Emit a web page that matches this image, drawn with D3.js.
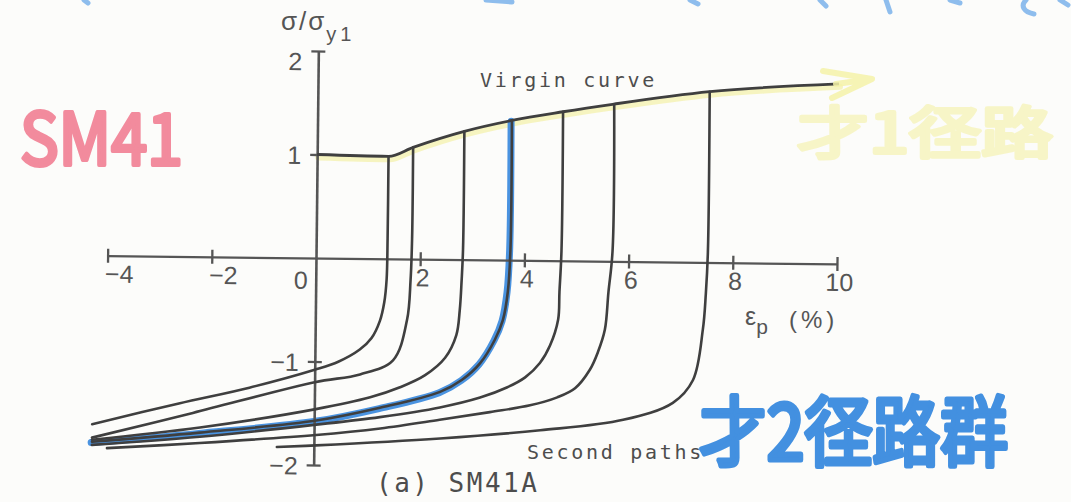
<!DOCTYPE html>
<html>
<head>
<meta charset="utf-8">
<script src="https://cdn.jsdelivr.net/npm/d3@7"></script>
<style>
  html, body { margin: 0; padding: 0; background: #fcfcfa; }
  svg { display: block; }
</style>
</head>
<body>
<svg id="chart" width="1071" height="502"></svg>
<script>
// Virgin (monotonic loading) curve: plastic strain (%) vs. stress ratio
const virginStrain = [0, 1.37, 1.84, 2.82, 3.73, 4.71, 5.69, 7.52, 10.0];
const virginStress = [1.0, 0.99, 1.08, 1.24, 1.35, 1.44, 1.52, 1.65, 1.74];

// Second paths: reverse loading started from points on the virgin curve [strain %, stress ratio]
const path1 = [[1.37,0.99],[1.37,0.2],[1.36,-0.2],[1.32,-0.42],[1.24,-0.6],[1.08,-0.77],[0.86,-0.88],[0.45,-1.0],[0,-1.08],[-1.25,-1.26],[-2.6,-1.42],[-4.26,-1.63]];
const path2 = [[1.84,1.08],[1.84,0.2],[1.82,-0.2],[1.76,-0.59],[1.5,-0.98],[0.87,-1.12],[0,-1.2],[-2.33,-1.51],[-4.26,-1.76]];
const path3 = [[2.82,1.24],[2.82,0.1],[2.80,-0.2],[2.77,-0.49],[2.71,-0.73],[2.50,-0.95],[2.12,-1.12],[1.64,-1.24],[1.07,-1.34],[0.03,-1.46],[-2.19,-1.65],[-4.26,-1.78]];
const path4 = [[3.73,1.35],[3.73,0.1],[3.69,-0.3],[3.60,-0.58],[3.45,-0.77],[3.17,-1.0],[2.83,-1.16],[2.41,-1.28],[1.26,-1.44],[0.04,-1.57],[-2.19,-1.70],[-4.26,-1.80]];
const path5 = [[4.71,1.44],[4.71,0.1],[4.68,-0.3],[4.66,-0.57],[4.51,-0.82],[4.32,-0.99],[4.04,-1.13],[3.69,-1.23],[3.18,-1.33],[2.41,-1.43],[1.26,-1.53],[0.04,-1.61],[-2.19,-1.74],[-4.26,-1.83]];
const path6 = [[5.69,1.52],[5.69,0.1],[5.62,-0.3],[5.56,-0.66],[5.43,-0.88],[5.28,-1.05],[5.0,-1.23],[4.66,-1.32],[4.14,-1.40],[3.37,-1.47],[2.41,-1.55],[1.27,-1.64],[0.04,-1.71],[-2.19,-1.80],[-3.97,-1.86]];
const path7 = [[7.52,1.65],[7.52,0.1],[7.49,-0.3],[7.44,-0.65],[7.26,-1.14],[6.88,-1.36],[5.93,-1.53],[4.34,-1.64],[2.42,-1.73],[0.04,-1.81],[-0.71,-1.83]];
const secondPaths = [path1, path2, path3, path4, path5, path6, path7];
const markedPath = path4;   // the path traced in blue

// Axis ticks and labels
const xTicks = [-4, -2, 2, 4, 6, 8, 10];
const xTickLabels = ["\u22124", "\u22122", "2", "4", "6", "8", "10"];
const yTicks = [2, 1, -1, -2];
const yTickLabels = ["2", "1", "\u22121", "\u22122"];

const svg = d3.select("#chart");
svg.append("rect").attr("width", 1071).attr("height", 502).attr("fill", "#fcfcfa");

const x = d3.scaleLinear().domain([-4, 10]).range([107.6, 837.0]);
const y = d3.scaleLinear().domain([-2, 2]).range([465, 51]);

const ink = "#3f3f3f";
const typeFont = "'DejaVu Sans Mono', monospace";
const labelFont = "'Liberation Sans', Arial, sans-serif";
const handFont = "'Noto Sans CJK JP', 'Noto Sans', sans-serif";

// the printed figure sits slightly askew on the page
const plot = svg.append("g").attr("transform", `rotate(0.65, ${x(0)}, ${y(0)})`);

const virgin = virginStrain.map((s, i) => [s, virginStress[i]]);
const virginLine = d3.line().x(d => x(d[0])).y(d => y(d[1])).curve(d3.curveMonotoneX);
const pathLine = d3.line().x(d => x(d[0])).y(d => y(d[1])).curve(d3.curveCatmullRom.alpha(0.5));

// yellow marker along the virgin curve
plot.append("path")
  .attr("d", virginLine(virgin))
  .attr("transform", "translate(1,3)")
  .attr("fill", "none").attr("stroke", "#f3f1a6").attr("stroke-width", 6)
  .attr("stroke-linecap", "round").attr("opacity", 0.7);

// blue marker along one second path
plot.append("path")
  .attr("d", pathLine(markedPath))
  .attr("transform", "translate(-0.8,0.8)")
  .attr("fill", "none").attr("stroke", "#4a93e0").attr("stroke-width", 7)
  .attr("stroke-linecap", "round").attr("stroke-linejoin", "round");

// x axis
const xAxis = plot.append("g")
  .attr("transform", `translate(0,${y(0)})`)
  .call(d3.axisBottom(x).tickValues(xTicks)
    .tickFormat((d, i) => xTickLabels[i])
    .tickSizeInner(7).tickSizeOuter(0));
xAxis.select(".domain").attr("stroke", "#555").attr("stroke-width", 2.3);
xAxis.selectAll(".tick line").attr("y1", -7).attr("stroke", "#555").attr("stroke-width", 2.3);
xAxis.selectAll(".tick text")
  .attr("y", 27).attr("dy", null)
  .attr("x", d => d < 0 ? -3 : 2)
  .attr("text-anchor", d => d < 0 ? "start" : "middle")
  .attr("font-family", labelFont).attr("font-size", 25).attr("fill", "#555");
xAxis.append("text")
  .attr("x", x(0) - 8).attr("y", 31)
  .attr("text-anchor", "end")
  .attr("font-family", labelFont).attr("font-size", 25).attr("fill", "#555")
  .text("0");

// y axis
const yAxis = plot.append("g")
  .attr("transform", `translate(${x(0)},0)`)
  .call(d3.axisLeft(y).tickValues(yTicks)
    .tickFormat((d, i) => yTickLabels[i])
    .tickSizeInner(7).tickSizeOuter(0));
yAxis.select(".domain").attr("stroke", "#555").attr("stroke-width", 2.6);
yAxis.selectAll(".tick line").attr("x1", d => d === 1 ? 0 : 7).attr("stroke", "#555").attr("stroke-width", 2.3);
yAxis.selectAll(".tick text")
  .attr("x", -16).attr("dy", d => d === 2 ? "0.75em" : "0.36em")
  .attr("text-anchor", "end")
  .attr("font-family", labelFont).attr("font-size", 25).attr("fill", "#555");

// curves
plot.append("path")
  .attr("d", virginLine(virgin))
  .attr("fill", "none").attr("stroke", ink).attr("stroke-width", 2.8)
  .attr("stroke-linejoin", "round");

plot.selectAll("path.second")
  .data(secondPaths)
  .join("path")
  .attr("class", "second")
  .attr("d", pathLine)
  .attr("fill", "none").attr("stroke", ink).attr("stroke-width", 2.6)
  .attr("stroke-linejoin", "round").attr("stroke-linecap", "round");

// typed labels
const axisTitle = svg.append("text")
  .attr("x", 281).attr("y", 30)
  .attr("font-family", labelFont).attr("font-size", 26).attr("fill", "#555")
  .attr("letter-spacing", 2);
axisTitle.append("tspan").text("\u03c3/\u03c3");
axisTitle.append("tspan").attr("dy", 11).attr("font-size", 20).attr("letter-spacing", 4).text("y1");

svg.append("text")
  .attr("x", 480).attr("y", 87)
  .attr("font-family", typeFont).attr("font-size", 20).attr("letter-spacing", 2.7)
  .attr("fill", "#4d4d4d").text("Virgin curve");

svg.append("text")
  .attr("x", 527).attr("y", 459)
  .attr("font-family", typeFont).attr("font-size", 20).attr("letter-spacing", 2.7)
  .attr("fill", "#4d4d4d").text("Second paths");

const strainTitle = svg.append("text")
  .attr("x", 745).attr("y", 325)
  .attr("font-family", labelFont).attr("font-size", 25).attr("fill", "#555");
strainTitle.append("tspan").text("\u03b5");
strainTitle.append("tspan").attr("dy", 9).attr("font-size", 21).text("p");
strainTitle.append("tspan").attr("x", 789).attr("y", 328).attr("font-size", 24)
  .attr("letter-spacing", 4).text("(%)");

svg.append("text")
  .attr("x", 376).attr("y", 492)
  .attr("font-family", typeFont).attr("font-size", 26).attr("letter-spacing", 2.5)
  .attr("fill", "#4d4d4d").text("(a) SM41A");

// handwritten notes in marker pen
svg.append("text")
  .attr("x", 20).attr("y", 165)
  .attr("font-family", handFont)
  .attr("font-weight", 400).attr("font-size", 72)
  .attr("textLength", 163).attr("lengthAdjust", "spacingAndGlyphs")
  .attr("fill", "#f28b9d").attr("stroke", "#f28b9d").attr("stroke-width", 4)
  .attr("stroke-linejoin", "round")
  .text("SM41");

svg.append("text")
  .attr("x", 797).attr("y", 153)
  .attr("font-family", handFont)
  .attr("font-weight", 400).attr("font-size", 56)
  .attr("textLength", 256).attr("lengthAdjust", "spacingAndGlyphs")
  .attr("fill", "#f7f5c2").attr("stroke", "#f7f5c2").attr("stroke-width", 4)
  .attr("stroke-linejoin", "round").attr("opacity", 0.9)
  .text("\u624d1\u5f84\u8def");

// yellow arrow head at the end of the virgin curve
svg.append("path")
  .attr("d", "M823,71 L872,79 L832,98 M836,84 L872,79")
  .attr("fill", "none").attr("stroke", "#f4f2a8").attr("stroke-width", 6)
  .attr("stroke-linecap", "round").attr("stroke-linejoin", "round").attr("opacity", 0.85);

svg.append("text")
  .attr("x", 699).attr("y", 460)
  .attr("font-family", handFont)
  .attr("font-weight", 400).attr("font-size", 76)
  .attr("textLength", 309).attr("lengthAdjust", "spacingAndGlyphs")
  .attr("fill", "#4390e0").attr("stroke", "#4390e0").attr("stroke-width", 5)
  .attr("stroke-linejoin", "round")
  .text("\u624d2\u5f84\u8def\u7fa4");

// ends of marker strokes from a note written above the figure
svg.append("path")
  .attr("d", "M84,0 L88,3 M486,0 L512,2 M690,0 L698,4 M820,0 L826,6 M886,0 L890,12 M950,0 L960,3 M1026,0 C1020,6 1024,12 1034,14 M1060,0 L1068,5")
  .attr("fill", "none").attr("stroke", "#6aa8e8").attr("stroke-width", 5)
  .attr("stroke-linecap", "round").attr("stroke-linejoin", "round").attr("opacity", 0.75);
</script>
</body>
</html>
